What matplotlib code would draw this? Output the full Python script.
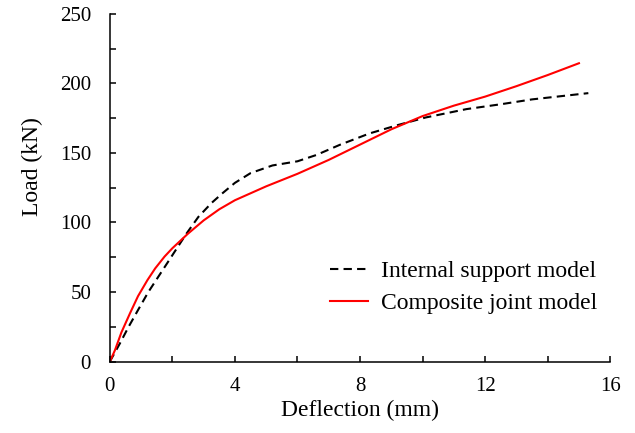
"""Load-deflection curves: internal support model vs composite joint model."""
import matplotlib
matplotlib.use("Agg")
import matplotlib.pyplot as plt
from matplotlib.ticker import MultipleLocator

plt.rcParams["font.family"] = ["Liberation Serif", "DejaVu Serif"]

# Internal support model (dashed)
defl_support = [0, 0.32, 0.6, 0.9, 1.23, 1.55, 1.87, 2.13, 2.45, 2.83, 3.25,
                3.6, 4.0, 4.5, 5.2, 6.0, 6.6, 7.35, 8.3, 9.2, 10.1, 11.4,
                12.5, 13.5, 14.5, 15.3]
load_support = [0, 13, 25, 37, 50, 61, 72, 81, 92, 104, 114, 121, 128.5,
                135.5, 141, 144, 148.5, 155.8, 164, 170, 175.5, 181.5, 185,
                188.5, 191, 193]

# Composite joint model (solid red)
defl_joint = [0, 0.16, 0.37, 0.65, 0.9, 1.2, 1.45, 1.75, 2.0, 2.5, 3.0, 3.5,
              4.0, 5.0, 6.0, 7.0, 8.0, 9.0, 10.0, 11.0, 12.0, 13.0, 14.0,
              15.0]
load_joint = [0, 8, 21, 35, 47, 58.5, 67, 75.5, 81.5, 92, 101.5, 109.5,
              116, 126, 135, 145, 156, 167, 176.5, 184, 190.5, 198, 206,
              214.5]

fig = plt.figure(figsize=(6.35, 4.33), dpi=100)
ax = fig.add_axes([0.173, 0.165, 0.788, 0.803])

ax.plot(defl_support, load_support, color="black", lw=1.5,
        linestyle=(0, (4, 2.5)), label="Internal support model")
ax.plot(defl_joint, load_joint, color="#FF0000", lw=1.5,
        label="Composite joint model")

ax.set_xlim(0, 16)
ax.set_ylim(0, 250)
ax.xaxis.set_major_locator(MultipleLocator(4))
ax.xaxis.set_minor_locator(MultipleLocator(2))
ax.yaxis.set_major_locator(MultipleLocator(50))
ax.yaxis.set_minor_locator(MultipleLocator(25))
ax.tick_params(which="both", direction="in", length=4, width=1.1,
               labelsize=15)
ax.tick_params(axis="x", pad=11)
ax.tick_params(axis="y", pad=13.5)

for side in ("top", "right"):
    ax.spines[side].set_visible(False)
for side in ("left", "bottom"):
    ax.spines[side].set_linewidth(1.1)

ax.set_xlabel("Deflection (mm)", fontsize=17, labelpad=3)
ax.set_ylabel("Load (kN)", fontsize=17, labelpad=12, y=0.56)

ax.legend(loc="center left", bbox_to_anchor=(0.44, 0.213), frameon=False,
          fontsize=17, borderpad=0, borderaxespad=0, handlelength=1.6,
          handletextpad=0.55, labelspacing=0.45)

fig.savefig("out.png", dpi=100)
